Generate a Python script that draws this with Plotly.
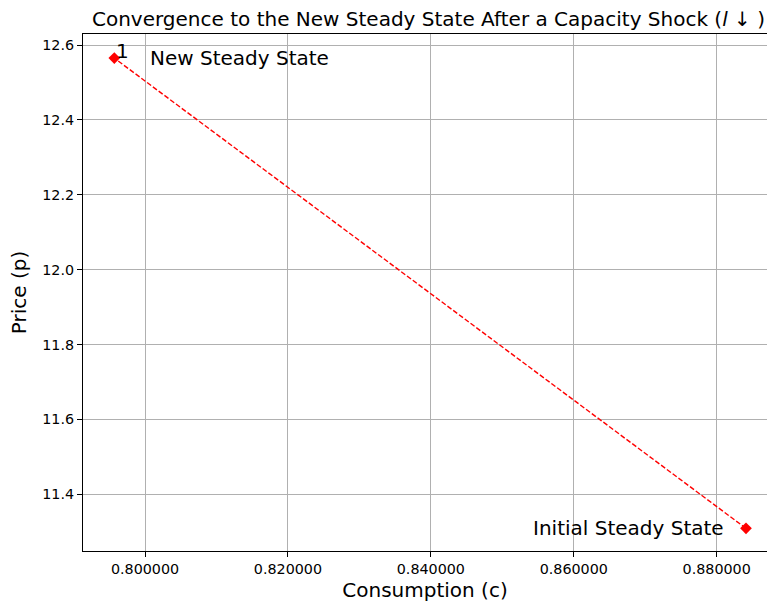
import plotly.graph_objects as go

# Data
consumption = [0.8841, 0.7957]
price = [11.309, 12.565]
point_labels = ["", "1"]
state_names = ["Initial Steady State", "New Steady State"]

x_ticks = [0.80, 0.82, 0.84, 0.86, 0.88]
y_ticks = [11.4, 11.6, 11.8, 12.0, 12.2, 12.4, 12.6]

FONT = "DejaVu Sans"
W, H = 767, 606

fig = go.Figure()
fig.add_trace(go.Scatter(
    x=consumption, y=price, mode="lines+markers",
    line=dict(color="red", width=1.4, dash="5px,2.2px"),
    marker=dict(symbol="diamond", size=9, color="red"),
    showlegend=False, hoverinfo="skip",
))

annotations = []
for cx, py, lab in zip(consumption, price, point_labels):
    if lab:
        annotations.append(dict(
            x=cx, y=py, xref="x", yref="y", text=lab, showarrow=False,
            xanchor="left", yanchor="middle", xshift=0, yshift=7,
            font=dict(family=FONT, size=20, color="black"),
        ))
annotations.append(dict(
    x=consumption[1], y=price[1], xref="x", yref="y", text=state_names[1],
    showarrow=False, xanchor="left", yanchor="middle", xshift=34, yshift=0,
    font=dict(family=FONT, size=20, color="black"),
))
annotations.append(dict(
    x=consumption[0], y=price[0], xref="x", yref="y", text=state_names[0],
    showarrow=False, xanchor="right", yanchor="middle", xshift=-20, yshift=0,
    font=dict(family=FONT, size=20, color="black"),
))

fig.update_layout(
    width=W, height=H,
    margin=dict(l=83, r=0, t=34, b=55, pad=0),
    paper_bgcolor="white", plot_bgcolor="white",
    font=dict(family=FONT, color="black"),
    title=dict(
        text="Convergence to the New Steady State After a Capacity Shock (<i>l</i> ↓ )",
        x=428.5 / W, xref="container", xanchor="center",
        y=1 - 18.5 / H, yref="container", yanchor="middle",
        font=dict(family=FONT, size=20, color="black"),
    ),
    annotations=annotations,
    xaxis=dict(
        range=[0.79132, 0.88704],
        tickvals=x_ticks, tickformat=".6f",
        showgrid=True, gridcolor="#b0b0b0", gridwidth=1,
        showline=True, linecolor="black", linewidth=1.1, mirror=True,
        ticks="outside", ticklen=5, tickwidth=1.1, tickcolor="black",
        tickfont=dict(family=FONT, size=14.3, color="black"),
        zeroline=False,
        title=dict(text="Consumption (c)", font=dict(family=FONT, size=20, color="black"), standoff=6),
    ),
    yaxis=dict(
        range=[11.2485, 12.6294],
        tickvals=y_ticks, tickformat=".1f",
        showgrid=True, gridcolor="#b0b0b0", gridwidth=1,
        showline=True, linecolor="black", linewidth=1.1, mirror=False,
        ticks="outside", ticklen=5, tickwidth=1.1, tickcolor="black",
        tickfont=dict(family=FONT, size=14.3, color="black"),
        zeroline=False,
        title=dict(text="Price (p)", font=dict(family=FONT, size=20, color="black"), standoff=10),
    ),
)

# remove the default 8px page margin so the figure fills the window exactly
fig.write_html(
    "out.html",
    config={"displayModeBar": False},
    post_script="document.body.style.margin='0';document.body.style.overflow='hidden';",
)
